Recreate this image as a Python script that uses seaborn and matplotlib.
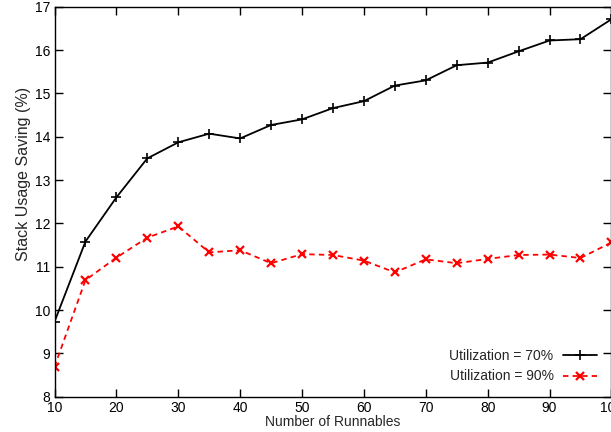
from matplotlib import pyplot as plt
import seaborn as sns
import pandas as pd

# Number of runnables on the x axis
runnables = [10, 15, 20, 25, 30, 35, 40, 45, 50, 55, 60, 65, 70, 75, 80, 85, 90, 95, 100]

# Stack usage saving (%) per utilization level
saving_70 = [9.73, 11.58, 12.60, 13.50, 13.87, 14.07, 13.96, 14.27, 14.40, 14.66,
             14.82, 15.18, 15.30, 15.65, 15.71, 15.97, 16.22, 16.25, 16.71]
saving_90 = [8.69, 10.69, 11.21, 11.67, 11.93, 11.33, 11.38, 11.08, 11.29, 11.27,
             11.14, 10.87, 11.17, 11.08, 11.18, 11.27, 11.28, 11.20, 11.56]

labels = ['Utilization = 70%', 'Utilization = 90%']

sns.set_style("ticks")
plt.rcParams['font.family'] = ['Liberation Sans', 'DejaVu Sans']
plt.rcParams['font.size'] = 10

df = pd.DataFrame({
    'runnables': runnables * 2,
    'saving': saving_70 + saving_90,
    'series': [labels[0]] * len(runnables) + [labels[1]] * len(runnables),
})

fig = plt.figure(figsize=(6.11, 4.32), dpi=100)
ax = fig.add_axes([0.0892, 0.0817, 0.9115, 0.9028])

sns.lineplot(
    data=df[df.series == labels[0]], x='runnables', y='saving',
    color='black', marker='+', markersize=7, markeredgewidth=1.2,
    markeredgecolor='black', linewidth=1.3, ax=ax, label=labels[0]
)
sns.lineplot(
    data=df[df.series == labels[1]], x='runnables', y='saving',
    color='red', marker='x', markersize=5.5, markeredgewidth=1.6,
    markeredgecolor='red', linewidth=1.3, linestyle=(0, (3, 2.3)),
    ax=ax, label=labels[1]
)

ax.set_xlim(10, 100)
ax.set_ylim(8, 17)
ax.set_xticks(range(10, 101, 10))
ax.set_yticks(range(8, 18))
ax.tick_params(direction='in', top=True, right=True, length=6, width=1,
               labelsize=10, colors='black', pad=3)
for s in ax.spines.values():
    s.set_linewidth(1.0)
    s.set_color('black')

ax.set_xlabel('Number of Runnables', fontsize=10, labelpad=0)
ax.set_ylabel('Stack Usage Saving (%)', fontsize=11.5)
ax.yaxis.set_label_coords(-0.042, 0.571)

ax.legend(loc='lower right', bbox_to_anchor=(0.997, 0.002), frameon=False,
          markerfirst=False, handlelength=2.5, fontsize=10, labelspacing=0.44,
          handletextpad=0.65)

plt.savefig('out.png', dpi=100)
plt.close()
